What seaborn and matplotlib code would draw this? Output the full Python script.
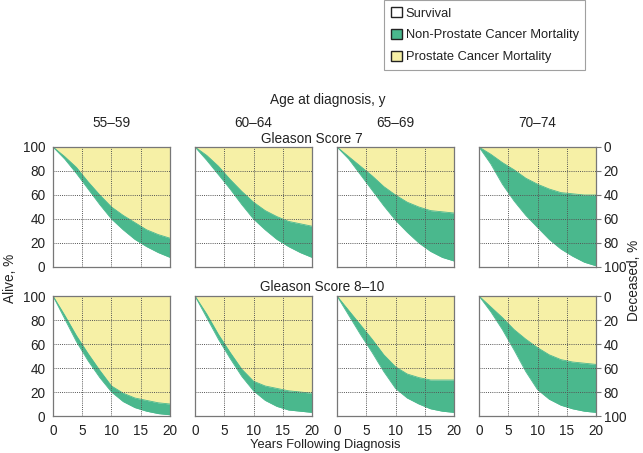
import numpy as np
import pandas as pd
import matplotlib
matplotlib.use("Agg")
import matplotlib.pyplot as plt
from matplotlib.patches import Patch
import seaborn as sns

sns.set_style("white")
plt.rcParams['font.family'] = ['Liberation Sans', 'DejaVu Sans']

years = [0, 2, 4, 6, 8, 10, 12, 14, 16, 18, 20]
age_groups = ["55\u201359", "60\u201364", "65\u201369", "70\u201374"]
gleason_rows = ["Gleason Score 7", "Gleason Score 8\u201310"]

# Survival (% alive) and survival + non-prostate cancer mortality (upper boundary)
g7_survival = [
    [100, 90, 78, 65, 52, 40, 31, 23, 17, 12, 8],
    [100, 89, 77, 65, 52, 40, 31, 23, 17, 12, 8],
    [100, 90, 77, 64, 51, 39, 29, 20, 13, 8, 5],
    [100, 86, 69, 55, 43, 33, 23, 15, 9, 4, 1],
]
g7_upper = [
    [100, 92, 83, 71, 60, 50, 43, 37, 31, 27, 24],
    [100, 93, 84, 73, 63, 54, 47, 42, 38, 36, 34],
    [100, 92, 84, 76, 67, 60, 54, 50, 47, 46, 45],
    [100, 94, 87, 81, 74, 69, 65, 62, 61, 60, 60],
]
g810_survival = [
    [100, 81, 62, 46, 32, 20, 12, 7, 4, 2, 1],
    [100, 82, 64, 48, 33, 21, 13, 8, 5, 4, 3],
    [100, 84, 68, 53, 37, 23, 15, 10, 6, 4, 3],
    [100, 87, 72, 55, 37, 22, 14, 9, 6, 4, 3],
]
g810_upper = [
    [100, 84, 67, 52, 38, 25, 19, 15, 13, 11, 10],
    [100, 85, 68, 53, 39, 29, 25, 23, 21, 20, 19],
    [100, 88, 76, 64, 51, 41, 35, 32, 30, 30, 30],
    [100, 91, 82, 72, 64, 57, 51, 47, 45, 44, 43],
]

x_ticks = [0, 5, 10, 15, 20]
alive_ticks = [0, 20, 40, 60, 80, 100]
legend_labels = ["Survival", "Non-Prostate Cancer Mortality", "Prostate Cancer Mortality"]

YELLOW = "#f6f0a6"
GREEN = "#4ab88d"
WHITE = "#ffffff"
GRID = "#555555"
SPINE = "#777777"
TXT = "#222222"
FS = 9.8

fig = plt.figure(figsize=(6.43, 4.53), dpi=100)

col_x = [53, 195, 337, 479]
ax_w = 117
row_top = [147, 296]
ax_h = 120
W, H = 643, 453

surv_rows = [g7_survival, g810_survival]
up_rows = [g7_upper, g810_upper]

for r in range(2):
    for c in range(4):
        left = col_x[c] / W
        bottom = 1 - (row_top[r] + ax_h) / H
        ax = fig.add_axes([left, bottom, ax_w / W, ax_h / H])
        df = pd.DataFrame({"year": years,
                           "survival": surv_rows[r][c],
                           "upper": up_rows[r][c]})
        ax.fill_between(df["year"], df["upper"], 100, color=YELLOW, lw=0, zorder=1)
        ax.fill_between(df["year"], df["survival"], df["upper"], color=GREEN, lw=0, zorder=1)
        sns.lineplot(data=df, x="year", y="upper", ax=ax, color=GREEN, lw=0.6, zorder=2)
        sns.lineplot(data=df, x="year", y="survival", ax=ax, color=GREEN, lw=0.6, zorder=2)
        ax.set_xlim(0, 20)
        ax.set_ylim(0, 100)
        ax.set_xlabel("")
        ax.set_ylabel("")
        ax.set_xticks(x_ticks)
        ax.set_yticks(alive_ticks)
        for v in x_ticks[1:-1]:
            ax.axvline(v, color=GRID, lw=0.7, ls=(0, (1, 1.2)), zorder=3)
        for v in alive_ticks[1:-1]:
            ax.axhline(v, color=GRID, lw=0.7, ls=(0, (1, 1.2)), zorder=3)
        for s in ax.spines.values():
            s.set_color(SPINE)
            s.set_linewidth(0.9)
            s.set_zorder(4)
        ax.tick_params(axis='both', labelsize=FS, colors=TXT, length=3.5,
                       width=0.8, direction='out', pad=2)
        ax.tick_params(axis='both', color=SPINE)
        if r == 1:
            ax.set_xticklabels([str(t) for t in x_ticks])
        else:
            ax.tick_params(axis='x', bottom=False, labelbottom=False)
        if c == 0:
            ax.set_yticklabels([str(t) for t in alive_ticks])
        elif c == 3:
            ax.yaxis.tick_right()
            ax.set_yticklabels([str(100 - t) for t in alive_ticks])
            ax.tick_params(axis='y', right=True, left=False, labelright=True,
                           labelleft=False, length=3.5, color=SPINE)
        else:
            ax.tick_params(axis='y', left=False, labelleft=False)
        if r == 0:
            fig.text((col_x[c] + ax_w / 2) / W, 1 - 123 / H, age_groups[c],
                     ha='center', va='center', fontsize=FS, color=TXT)

fig.text(328 / W, 1 - 100 / H, "Age at diagnosis, y", ha='center', va='center',
         fontsize=FS, color=TXT)
fig.text(312 / W, 1 - 139 / H, gleason_rows[0], ha='center', va='center',
         fontsize=FS, color=TXT)
fig.text(322 / W, 1 - 287 / H, gleason_rows[1], ha='center', va='center',
         fontsize=FS, color=TXT)
fig.text(325 / W, 2 / H, "Years Following Diagnosis", ha='center', va='bottom',
         fontsize=9.3, color=TXT)
fig.text(10 / W, 1 - 278 / H, "Alive, %", ha='center', va='center', rotation=90,
         fontsize=FS, color=TXT)
fig.text(634 / W, 1 - 280 / H, "Deceased, %", ha='center', va='center', rotation=90,
         fontsize=FS, color=TXT)

handles = [Patch(facecolor=col, edgecolor='#222222', linewidth=1.0)
           for col in [WHITE, GREEN, YELLOW]]
leg = fig.legend(handles, legend_labels, loc='upper left',
                 bbox_to_anchor=(378 / W, 1 + 6 / H), fontsize=9.3, frameon=True,
                 handlelength=0.85, handleheight=0.85, handletextpad=0.3,
                 labelspacing=0.72, borderpad=0.5, fancybox=False)
leg.get_frame().set_edgecolor('#888888')
leg.get_frame().set_linewidth(0.8)
for t in leg.get_texts():
    t.set_color(TXT)

fig.savefig("out.png", dpi=100)
